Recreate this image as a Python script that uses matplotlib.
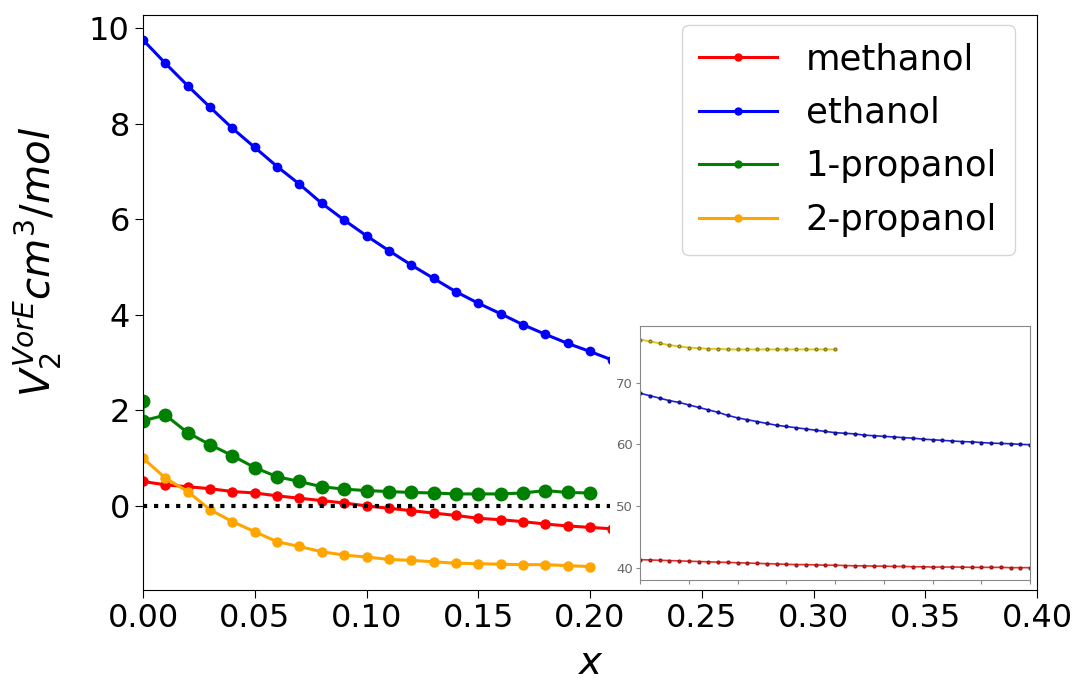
import numpy as np
import matplotlib
matplotlib.use("Agg")
import matplotlib.pyplot as plt
from matplotlib.patches import Rectangle

# main panel data (x = 0 .. 0.20, step 0.01; red/blue continue to 0.21 under the inset)
x_main = np.round(np.arange(0, 0.205, 0.01), 2)
x_long = np.round(np.arange(0, 0.215, 0.01), 2)

methanol = [0.51, 0.44, 0.40, 0.36, 0.30, 0.27, 0.21, 0.16, 0.11, 0.06, 0.00,
            -0.05, -0.10, -0.15, -0.20, -0.26, -0.29, -0.33, -0.38, -0.42, -0.45, -0.48]
ethanol = [9.75, 9.26, 8.79, 8.34, 7.90, 7.50, 7.10, 6.73, 6.33, 5.98, 5.65,
           5.34, 5.04, 4.76, 4.48, 4.24, 4.02, 3.79, 3.59, 3.40, 3.23, 3.05]
x_green = [0.0] + list(x_main)
propanol1 = [2.2, 1.78, 1.90, 1.53, 1.28, 1.05, 0.80, 0.61, 0.51, 0.40, 0.35, 0.32,
             0.30, 0.28, 0.27, 0.25, 0.25, 0.25, 0.27, 0.32, 0.28, 0.27]
propanol2 = [1.00, 0.58, 0.30, -0.08, -0.33, -0.54, -0.75, -0.85, -0.96, -1.03, -1.07,
             -1.12, -1.14, -1.17, -1.20, -1.21, -1.22, -1.23, -1.23, -1.25, -1.27]

# inset data (x = 0 .. 0.40, step 0.01)
x_ins = np.round(np.arange(0, 0.405, 0.01), 2)
ins_red = [41.3, 41.25, 41.2, 41.15, 41.1, 41.05, 41.0, 40.95, 40.9, 40.85, 40.8,
           40.75, 40.7, 40.65, 40.6, 40.55, 40.5, 40.5, 40.45, 40.4, 40.4,
           40.35, 40.3, 40.3, 40.25, 40.25, 40.2, 40.2, 40.15, 40.15, 40.1,
           40.1, 40.1, 40.1, 40.05, 40.05, 40.05, 40.05, 40.0, 40.0, 40.0]
ins_blue = [68.3, 67.9, 67.5, 67.1, 66.8, 66.4, 66.0, 65.6, 65.2, 64.7, 64.3,
            64.0, 63.7, 63.4, 63.1, 62.9, 62.7, 62.5, 62.3, 62.1, 61.9,
            61.8, 61.7, 61.5, 61.4, 61.3, 61.2, 61.1, 61.0, 60.85, 60.75,
            60.65, 60.55, 60.45, 60.4, 60.3, 60.2, 60.15, 60.1, 60.0, 59.95]
ins_yellow = [77.0, 76.7, 76.4, 76.1, 75.9, 75.7, 75.6, 75.5, 75.5, 75.4, 75.4,
              75.4, 75.4, 75.4, 75.4, 75.4, 75.4, 75.4, 75.4, 75.4, 75.4]

fig = plt.figure(figsize=(10.76, 6.89), dpi=100)
ax = fig.add_axes([0.1329, 0.1437, 0.8309, 0.8345])

ax.plot(x_long, methanol, color="red", marker="o", markersize=6.5, lw=2.2, label="methanol")
ax.plot(x_long, ethanol, color="blue", marker="o", markersize=6, lw=2.2, label="ethanol")
ax.plot(x_green, propanol1, color="green", marker="o", markersize=9, lw=2.2, label="1-propanol")
ax.plot(x_main, propanol2, color="orange", marker="o", markersize=6.5, lw=2.2, label="2-propanol")
ax.plot([0, 0.21], [0, 0], color="black", ls=":", lw=3)

ax.set_xlim(0, 0.40)
ax.set_ylim(-1.76, 10.27)
ax.set_xticks(np.arange(0, 0.401, 0.05))
ax.set_yticks([0, 2, 4, 6, 8, 10])
ax.tick_params(labelsize=23, length=6)
ax.set_xlabel("$x$", fontsize=28, labelpad=7)
ax.set_ylabel("$V_2^{VorE}cm^3/mol$", fontsize=29)
ax.yaxis.set_label_coords(-0.088, 0.57)

leg = ax.legend(loc="upper right", fontsize=25.5, handlelength=2.2, borderpad=0.5,
                labelspacing=0.55, borderaxespad=0, bbox_to_anchor=(0.975, 0.983))
leg.get_frame().set_edgecolor("#cccccc")
for h in leg.get_lines():
    h.set_markersize(5)

# white area behind the inset
fig.patches.append(Rectangle((610 / 1076, (689 - 588) / 689), 425 / 1076, 266 / 689,
                             transform=fig.transFigure, facecolor="white",
                             edgecolor="none", zorder=3))

ins = fig.add_axes([640 / 1076, (689 - 580) / 689, 390 / 1076, 254 / 689], zorder=4)
ins.plot(x_ins, ins_red, color="#e03030", marker=".", markersize=4, lw=1.2,
         markeredgecolor="#a01010")
ins.plot(x_ins, ins_blue, color="#2020e0", marker=".", markersize=4, lw=1.2,
         markeredgecolor="#101080")
ins.plot(x_main, ins_yellow, color="#e0c820", marker=".", markersize=4, lw=1.4,
         markeredgecolor="#8a7810")
ins.set_xlim(0, 0.40)
ins.set_ylim(38.0, 79.2)
ins.set_xticks(np.arange(0, 0.401, 0.05))
ins.set_xticklabels([])
ins.set_yticks([40, 50, 60, 70])
ins.tick_params(labelsize=9.5, labelcolor="#666666", color="#888888", length=3, pad=2)
for s in ins.spines.values():
    s.set_color("#888888")

fig.savefig("out.png", dpi=100)
